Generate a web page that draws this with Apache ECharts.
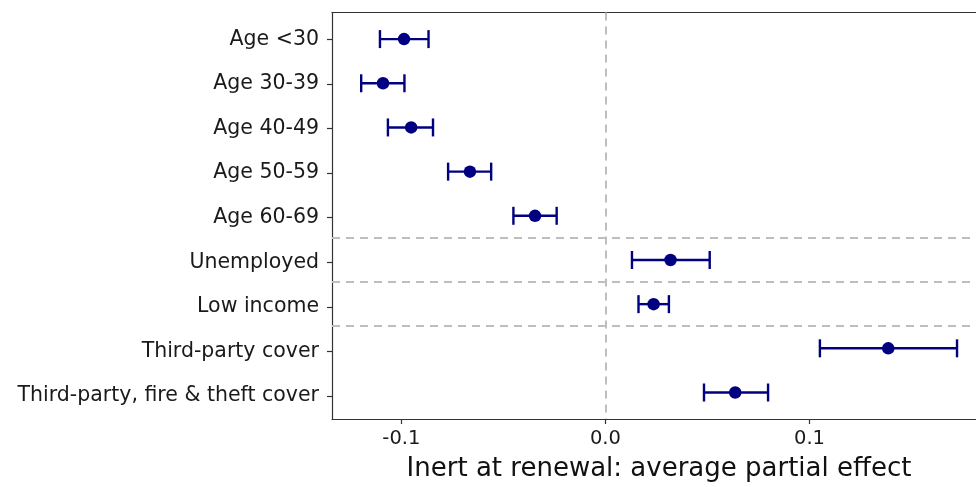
<!DOCTYPE html>
<html>
<head>
<meta charset="utf-8">
<script src="https://cdn.jsdelivr.net/npm/echarts@6/dist/echarts.min.js"></script>
<style>
  html, body { margin: 0; padding: 0; background: #fff; }
  #main { width: 976px; height: 487px; }
</style>
</head>
<body>
<div id="main"></div>
<script>
// average partial effects, with lower/upper bounds of the interval
var categories = ['Age <30', 'Age 30-39', 'Age 40-49', 'Age 50-59', 'Age 60-69',
                  'Unemployed', 'Low income', 'Third-party cover', 'Third-party, fire & theft cover'];
var effect = [-0.0987, -0.1090, -0.0952, -0.0664, -0.0345, 0.0319, 0.0236, 0.1386, 0.0636];
var lower  = [-0.1105, -0.1197, -0.1066, -0.0771, -0.0451, 0.0130, 0.0162, 0.1051, 0.0483];
var upper  = [-0.0867, -0.0985, -0.0845, -0.0560, -0.0239, 0.0511, 0.0311, 0.1723, 0.0797];
var xTicks = [-0.1, 0, 0.1];
var groupBreaks = [4.5, 5.5, 6.5];

var navy = '#000080';
var frame = { color: '#333', width: 1.2 };
var font = "'DejaVu Sans', sans-serif";
var xMin = -0.134, xMax = 0.1816;

var chart = echarts.init(document.getElementById('main'));

var pts = effect.map(function (v, i) { return [v, i]; });
var bars = lower.map(function (lo, i) { return [lo, upper[i], i]; });

var dashed = { color: '#bebebe', width: 2, type: [8, 6] };
var marks = [{ xAxis: 0 }];
groupBreaks.forEach(function (b) { marks.push({ yAxis: b }); });

option = {
    backgroundColor: '#fff',
    animation: false,
    grid: [
        { left: 332, right: 0, top: 12.6, bottom: 64.4 },
        // only used for the category labels, spaced like ggplot (0.6 padding)
        { left: 332, right: 0, top: 17.1, height: 401.1 }
    ],
    xAxis: [
        {
            gridIndex: 0, type: 'value', min: xMin, max: xMax, position: 'bottom',
            splitLine: { show: false },
            axisLine: { show: true, onZero: false, lineStyle: frame },
            axisTick: { show: true, length: 5, customValues: xTicks, lineStyle: frame },
            axisLabel: {
                customValues: xTicks, color: '#1a1a1a', fontSize: 19.5, margin: 10,
                fontFamily: font,
                formatter: function (v) { return v.toFixed(1); }
            },
            name: 'Inert at renewal: average partial effect',
            nameLocation: 'middle', nameGap: 37,
            // panel is cut off on the right in the original, so the title sits a bit right of centre
            nameTextStyle: { fontSize: 26, color: '#111', fontFamily: font, padding: [0, 0, 0, 10] }
        },
        { gridIndex: 1, type: 'value', min: xMin, max: xMax, show: false, axisLine: { onZero: false } },
        // top edge of the panel
        {
            gridIndex: 0, type: 'value', min: xMin, max: xMax, position: 'top',
            axisLine: { show: true, onZero: false, lineStyle: frame },
            axisTick: { show: false }, axisLabel: { show: false }, splitLine: { show: false }
        }
    ],
    yAxis: [
        {
            gridIndex: 0, type: 'value', min: -0.6, max: 8.6, inverse: true, position: 'left',
            axisLine: { show: true, onZero: false, lineStyle: frame },
            axisTick: { show: false }, axisLabel: { show: false }, splitLine: { show: false }
        },
        {
            gridIndex: 1, type: 'category', data: categories, inverse: true, position: 'left',
            axisLine: { show: false, onZero: false },
            splitLine: { show: false },
            axisTick: { show: true, alignWithLabel: true, length: 5, lineStyle: frame },
            axisLabel: { color: '#1a1a1a', fontSize: 20.5, margin: 13, fontFamily: font }
        }
    ],
    series: [
        {
            type: 'line', xAxisIndex: 0, yAxisIndex: 0, data: [], z: 1,
            markLine: { silent: true, symbol: 'none', label: { show: false },
                        lineStyle: dashed, data: marks }
        },
        {
            type: 'custom', xAxisIndex: 0, yAxisIndex: 0, data: bars, z: 3,
            renderItem: function (params, api) {
                var a = api.coord([api.value(0), api.value(2)]);
                var b = api.coord([api.value(1), api.value(2)]);
                var h = 9;
                var st = { stroke: navy, lineWidth: 2.4 };
                return {
                    type: 'group',
                    children: [
                        { type: 'line', shape: { x1: a[0], y1: a[1], x2: b[0], y2: b[1] }, style: st },
                        { type: 'line', shape: { x1: a[0], y1: a[1] - h, x2: a[0], y2: a[1] + h }, style: st },
                        { type: 'line', shape: { x1: b[0], y1: b[1] - h, x2: b[0], y2: b[1] + h }, style: st }
                    ]
                };
            }
        },
        {
            type: 'scatter', xAxisIndex: 0, yAxisIndex: 0, data: pts, z: 4,
            symbol: 'circle', symbolSize: 12.5,
            itemStyle: { color: navy, opacity: 1 }
        }
    ]
};
chart.setOption(option);
</script>
</body>
</html>
